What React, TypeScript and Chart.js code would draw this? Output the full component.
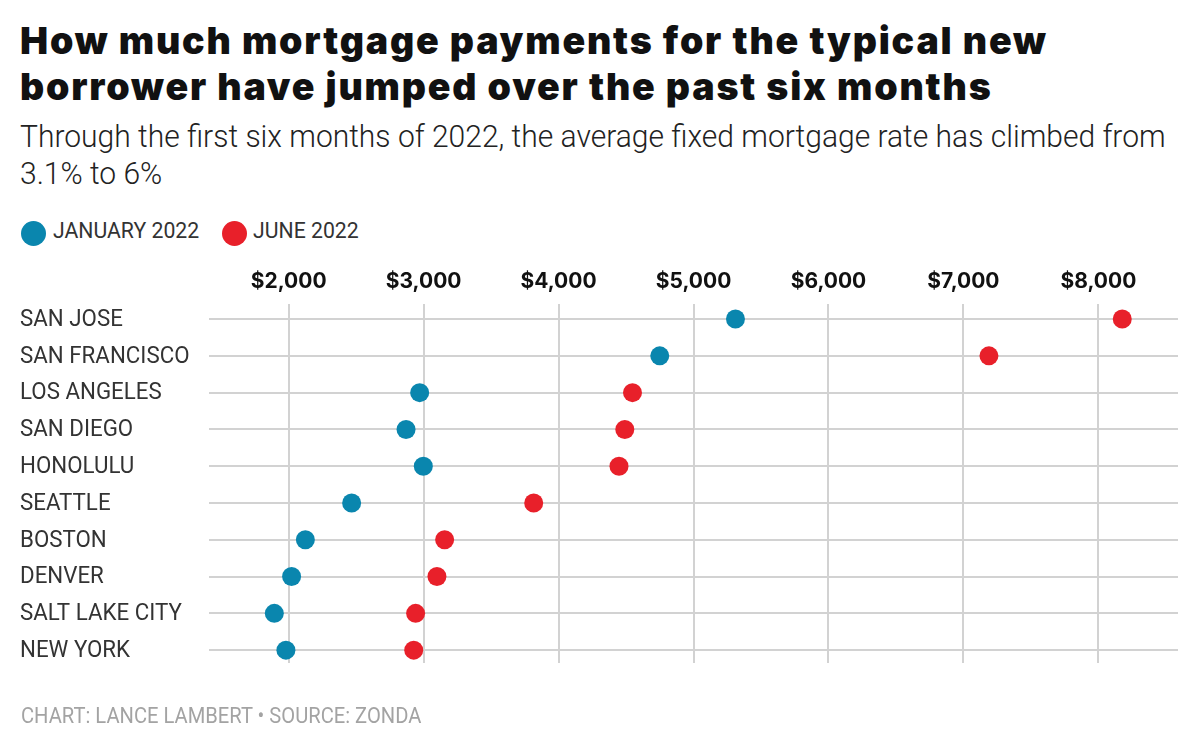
import React, { useEffect, useRef } from "react";
import { Chart, registerables } from "chart.js";

Chart.register(...registerables);

// ---- data ----
const cities = [
  "SAN JOSE",
  "SAN FRANCISCO",
  "LOS ANGELES",
  "SAN DIEGO",
  "HONOLULU",
  "SEATTLE",
  "BOSTON",
  "DENVER",
  "SALT LAKE CITY",
  "NEW YORK",
];
const january2022 = [5311, 4750, 2971, 2870, 2998, 2467, 2124, 2022, 1894, 1980];
const june2022 = [8177, 7189, 4548, 4491, 4448, 3816, 3156, 3099, 2941, 2927];
const xTickValues = [2000, 3000, 4000, 5000, 6000, 7000, 8000];
const seriesNames = ["JANUARY 2022", "JUNE 2022"];

// ---- style ----
const BLUE = "#0a86ae";
const RED = "#e8202a";
const GRID = "#d2d2d2";
const LABEL_SX = 0.97;
const COND = "Roboto, 'Noto Sans', sans-serif";

const cityLabelPlugin = {
  id: "cityLabels",
  afterDraw(chart: any) {
    const ctx = chart.ctx;
    const ys = chart.scales.y;
    ctx.save();
    ctx.font = `400 23px ${COND}`;
    ctx.fillStyle = "#333333";
    ctx.textBaseline = "middle";
    ctx.textAlign = "left";
    cities.forEach((c, i) => {
      const py = ys.getPixelForValue(i);
      ctx.save();
      ctx.translate(20, py + 1);
      ctx.scale(LABEL_SX, 1);
      ctx.fillText(c, 0, 0);
      ctx.restore();
    });
    ctx.restore();
  },
};

export default function App() {
  const canvasRef = useRef<HTMLCanvasElement | null>(null);

  useEffect(() => {
    if (!canvasRef.current) return;
    const chart = new Chart(canvasRef.current, {
      type: "scatter",
      data: {
        datasets: [
          {
            label: seriesNames[0],
            data: january2022.map((v, i) => ({ x: v, y: i })),
            backgroundColor: BLUE,
            borderWidth: 0,
            pointRadius: 9.5,
            pointHoverRadius: 9.5,
          },
          {
            label: seriesNames[1],
            data: june2022.map((v, i) => ({ x: v, y: i })),
            backgroundColor: RED,
            borderWidth: 0,
            pointRadius: 9.5,
            pointHoverRadius: 9.5,
          },
        ],
      },
      options: {
        animation: false,
        responsive: false,
        events: [],
        layout: { padding: { top: 250, left: 209, right: 22, bottom: 86 } },
        plugins: {
          legend: { display: false },
          tooltip: { enabled: false },
          title: { display: false },
        },
        scales: {
          x: {
            type: "linear",
            position: "top",
            min: 1410,
            max: 8590,
            afterBuildTicks: (s: any) => {
              s.ticks = xTickValues.map((v) => ({ value: v }));
            },
            afterFit: (s: any) => {
              s.height = 54;
            },
            border: { display: false },
            grid: { color: GRID, lineWidth: 2, drawTicks: false },
            ticks: {
              autoSkip: false,
              maxRotation: 0,
              padding: 10,
              color: "#111111",
              font: { family: "Inter, Roboto, sans-serif", size: 21, weight: "bold" },
              callback: (v: any) => "$" + Number(v).toLocaleString("en-US"),
            },
          },
          y: {
            type: "linear",
            reverse: true,
            min: -0.41,
            max: 9.35,
            afterBuildTicks: (s: any) => {
              s.ticks = cities.map((_, i) => ({ value: i }));
            },
            afterFit: (s: any) => {
              s.width = 0;
            },
            border: { display: false },
            grid: { color: GRID, lineWidth: 2, drawTicks: false },
            ticks: { display: false },
          },
        },
      },
      plugins: [cityLabelPlugin],
    } as any);
    return () => chart.destroy();
  }, []);

  const legendItem = (color: string, cx: number, text: string, tx: number) => (
    <>
      <div
        style={{
          position: "absolute",
          left: cx - 12.5,
          top: 233 - 12.5,
          width: 25,
          height: 25,
          borderRadius: "50%",
          background: color,
        }}
      />
      <div
        style={{
          position: "absolute",
          left: tx,
          top: 220,
          fontFamily: COND,
          fontSize: 22,
          lineHeight: "22px",
          color: "#333333",
          whiteSpace: "nowrap",
          transform: "scaleX(0.965)",
          transformOrigin: "left center",
        }}
      >
        {text}
      </div>
    </>
  );

  return (
    <div
      style={{
        position: "absolute",
        left: 0,
        top: 0,
        width: 1200,
        height: 749,
        background: "#ffffff",
        overflow: "hidden",
      }}
    >
      <div
        style={{
          position: "absolute",
          left: 20,
          top: 18,
          fontFamily: "Inter, Roboto, sans-serif",
          fontWeight: 900,
          fontSize: 37.5,
          letterSpacing: "1.8px",
          lineHeight: "45.5px",
          color: "#111111",
          whiteSpace: "nowrap",
        }}
      >
        How much mortgage payments for the typical new
        <br />
        borrower have jumped over the past six months
      </div>
      <div
        style={{
          position: "absolute",
          left: 20,
          top: 117.5,
          fontFamily: COND,
          fontWeight: 300,
          fontSize: 30.5,
          lineHeight: "37.6px",
          color: "#222222",
          whiteSpace: "nowrap",
          transform: "scaleX(0.984)",
          transformOrigin: "left top",
        }}
      >
        Through the first six months of 2022, the average fixed mortgage rate has climbed from
        <br />
        3.1% to 6%
      </div>
      {legendItem(BLUE, 33, seriesNames[0], 52.5)}
      {legendItem(RED, 234.5, seriesNames[1], 253)}
      <canvas
        ref={canvasRef}
        width={1200}
        height={749}
        style={{ position: "absolute", left: 0, top: 0, width: 1200, height: 749 }}
      />
      <div
        style={{
          position: "absolute",
          left: 20.5,
          top: 705,
          fontFamily: COND,
          fontSize: 22,
          lineHeight: "22px",
          color: "#a3a3a3",
          whiteSpace: "nowrap",
          transform: "scaleX(0.916)",
          transformOrigin: "left center",
        }}
      >
        CHART: LANCE LAMBERT • SOURCE: ZONDA
      </div>
    </div>
  );
}
